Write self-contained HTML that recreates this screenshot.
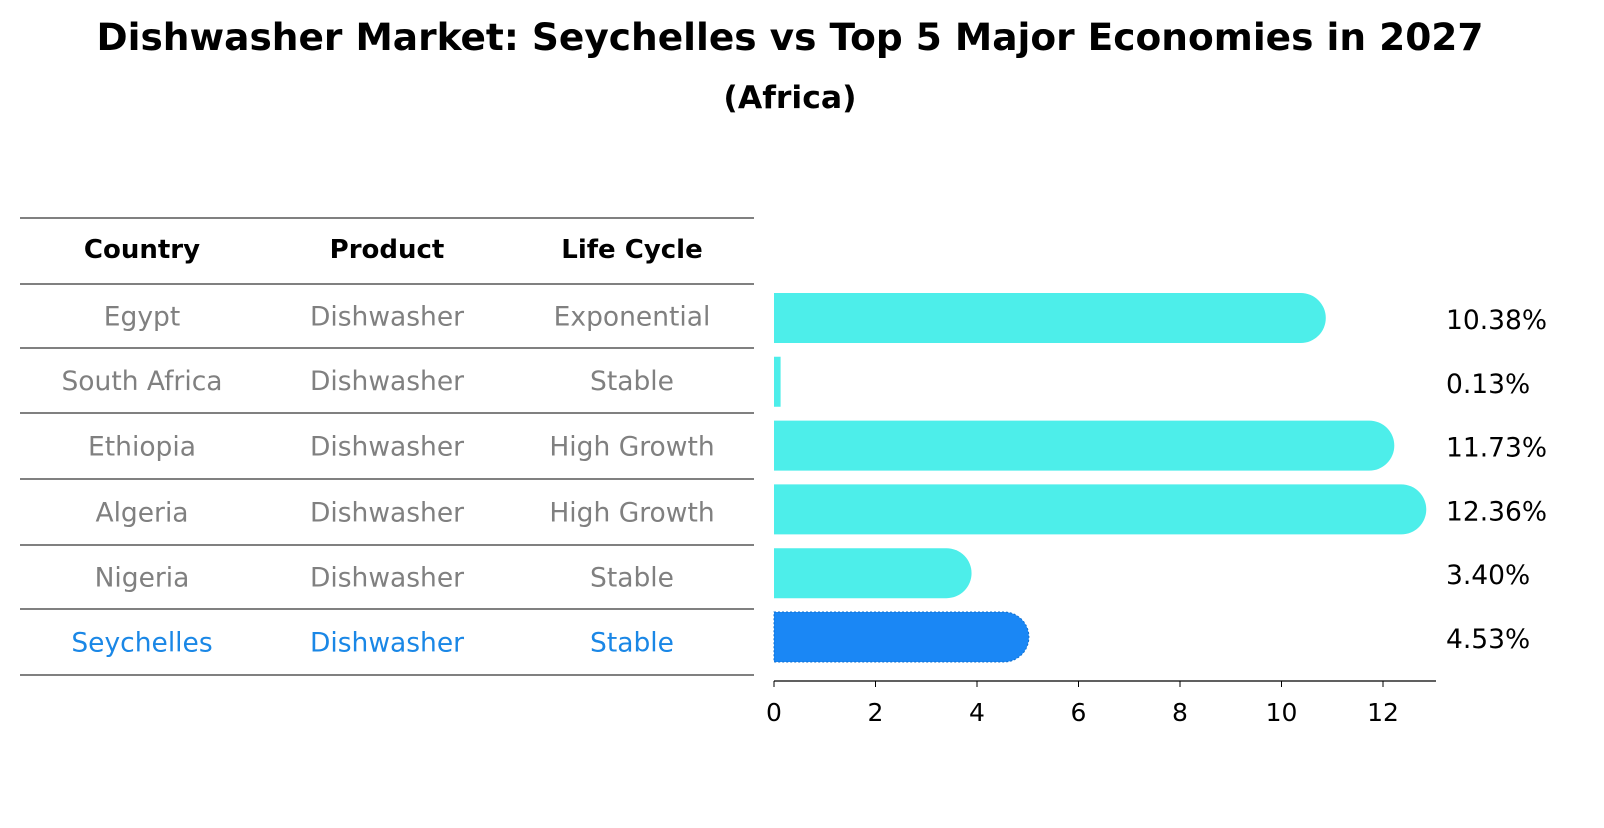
<!DOCTYPE html>
<html><head><meta charset="utf-8"><style>
body{margin:0;background:#fff;font-family:"Liberation Sans","DejaVu Sans",sans-serif;}
</style></head><body>
<svg id="chart" width="1604" height="823" xmlns="http://www.w3.org/2000/svg" font-family="DejaVu Sans, Liberation Sans, sans-serif">
<text x="790" y="50" text-anchor="middle" font-size="37.5" font-weight="bold">Dishwasher Market: Seychelles vs Top 5 Major Economies in 2027</text>
<text x="790" y="108" text-anchor="middle" font-size="31.5" font-weight="bold">(Africa)</text>
<g id="table"></g>
<g id="bars"></g>
</svg>
<script>
const countries=["Egypt","South Africa","Ethiopia","Algeria","Nigeria","Seychelles"];
const products=["Dishwasher","Dishwasher","Dishwasher","Dishwasher","Dishwasher","Dishwasher"];
const lifeCycles=["Exponential","Stable","High Growth","High Growth","Stable","Stable"];
const values=[10.38,0.13,11.73,12.36,3.40,4.53];
const xTicks=[0,2,4,6,8,10,12];
const NS="http://www.w3.org/2000/svg";
function mk(tag,attrs,parent){const e=document.createElementNS(NS,tag);for(const k in attrs)e.setAttribute(k,attrs[k]);parent.appendChild(e);return e;}
const table=document.getElementById('table');
const bars=document.getElementById('bars');
const lineYs=[218,284,348,413,479,545,609,675];
lineYs.forEach(y=>{const l=mk('line',{x1:20,x2:754,y1:y,y2:y,stroke:'#000','stroke-width':1},table);

});
const colX=[142,387,632];
["Country","Product","Life Cycle"].forEach((h,i)=>{const t=mk('text',{x:colX[i],y:258,'text-anchor':'middle','font-size':26,'font-weight':'bold'},table);t.textContent=h;

});
countries.forEach((c,r)=>{const y=(lineYs[r+1]+lineYs[r+2])/2+9.5;const col=r===countries.length-1?'#1a87e6':'#808080';
[c,products[r],lifeCycles[r]].forEach((v,i)=>{const t=mk('text',{x:colX[i],y:y,'text-anchor':'middle','font-size':26.5,fill:col},table);t.textContent=v;

});});
const x0=774,xs=(1383-774)/12;
const X=v=>x0+v*xs;
const Y=i=>318+i*63.8;
const h=50,r=25;
values.forEach((v,i)=>{const last=i===values.length-1;const fill=last?'#1a87f5':'#4deeea';
const w=X(v)-x0;const cy=Y(i);
const g=mk('g',{},bars);


let d;
if(w>r){d=`M${x0},${cy-h/2} H${x0+w} A${r},${r} 0 0 1 ${x0+w},${cy+h/2} H${x0} Z`;}
else{d=`M${x0},${cy-h/2} H${x0+Math.max(w,1)} V${cy+h/2} H${x0} Z`;}
mk('path',{d:d,fill:fill,stroke:last?'#0f6fd0':'none','stroke-dasharray':last?'2,2':'none'},g);
const t=mk('text',{x:1446,y:cy+11,'font-size':26.5},bars);t.textContent=v.toFixed(2)+'%';

});
const ax=mk('line',{x1:774,x2:1436,y1:681,y2:681,stroke:'#000','stroke-width':1.2},bars);


xTicks.forEach(v=>{const tk=mk('line',{x1:X(v),x2:X(v),y1:681,y2:687,stroke:'#000'},bars);


const t=mk('text',{x:X(v),y:721,'text-anchor':'middle','font-size':25},bars);t.textContent=v;

});
</script>
</body></html>
